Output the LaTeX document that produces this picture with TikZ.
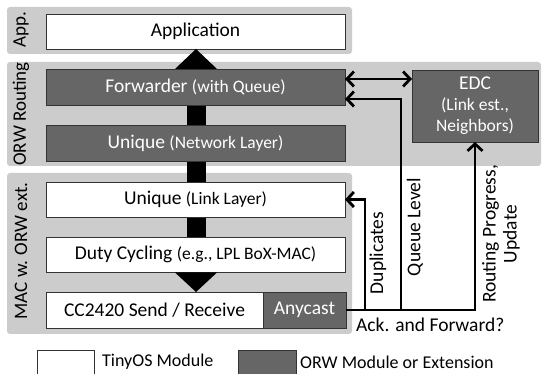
\documentclass[tikz,border=0pt]{standalone}
\usepackage{fontspec}
\setmainfont{Carlito}
\usetikzlibrary{arrows.meta}
\definecolor{bandgray}{HTML}{CCCCCC}
\definecolor{darkbox}{HTML}{666666}
\definecolor{edgegray}{HTML}{333333}
\tikzset{
  band/.style={fill=bandgray, draw=none, rounded corners=3pt},
  tbox/.style={draw=edgegray, line width=0.9pt, fill=white, inner sep=0pt, outer sep=0pt, font=\fontsize{19.5}{22}\selectfont, text=black},
  obox/.style={draw=edgegray, line width=0.9pt, fill=darkbox, inner sep=0pt, outer sep=0pt, font=\fontsize{19.5}{22}\selectfont, text=white},
  bandlabel/.style={rotate=90, font=\fontsize{19}{22}\selectfont, inner sep=0pt},
  conlabel/.style={font=\fontsize{19.5}{22}\selectfont, inner sep=0pt},
  conn/.style={line width=2.8pt, draw=black},
  tip/.style={-{Straight Barb[length=7pt,width=15pt]}},
  dtip/.style={{Straight Barb[length=7pt,width=15pt]}-{Straight Barb[length=7pt,width=15pt]}},
}
\newcommand{\smalltxt}[1]{{\fontsize{17.5}{20}\selectfont #1}}
\begin{document}
\begin{tikzpicture}[x=1pt,y=-1pt]
\useasboundingbox (0,0) rectangle (544,374);
% bands
\path[band] (7,7) rectangle (352,54);
\path[band] (7,62) rectangle (541,166);
\path[band] (7,173) rectangle (352,334);
\node[bandlabel] (lapp) at (21,30) {App.};
\node[bandlabel] (lorw) at (21,114) {ORW Routing};
\node[bandlabel] (lmac) at (21,251) {MAC w. ORW ext.};
% big bar behind boxes
\fill[black] (187,69) rectangle (206,273);
% boxes
\node[tbox, minimum width=299pt, minimum height=35pt] (app) at (195.5,31.5) {Application};
\node[obox, minimum width=299pt, minimum height=36pt] (fwd) at (195.5,87) {Forwarder \smalltxt{(with Queue)}};
\node[obox, minimum width=299pt, minimum height=36pt] (un) at (195.5,143) {Unique \smalltxt{(Network Layer)}};
\node[tbox, minimum width=299pt, minimum height=35pt] (ul) at (195.5,199.5) {Unique \smalltxt{(Link Layer)}};
\node[tbox, minimum width=299pt, minimum height=35pt] (dc) at (195.5,254.5) {Duty Cycling \smalltxt{(e.g., LPL BoX-MAC)}};
\node[tbox, minimum width=217pt, minimum height=36pt] (cc) at (154.5,310) {CC2420 Send / Receive};
\node[obox, minimum width=83pt, minimum height=36pt] (any) at (304.5,310) {Anycast};
\node[obox, minimum width=126pt, minimum height=72pt, align=center] (edc) at (475,106) {EDC\\[-1pt]\smalltxt{(Link est.,}\\[-1pt]\smalltxt{Neighbors)}};
% triangles
\fill[black] (175,69) -- (217,69) -- (196,49) -- cycle;
\fill[black] (175,272.5) -- (217,272.5) -- (196,292) -- cycle;
% connectors
\coordinate (j1) at ([xshift=19pt]any.east);
\coordinate (j2) at ([xshift=55pt]any.east);
\draw[conn, dtip] ([yshift=8pt]fwd.east) -- ([yshift=8pt]fwd.east -| edc.west);
\draw[conn, tip] (any.east) -| (edc.south);
\draw[conn, tip] (j1) |- (ul.east);
\draw[conn, tip] (j2) |- ([yshift=-12pt]fwd.east);
% connector labels
\node[conlabel, rotate=90] (tdup) at (378,253) {Duplicates};
\node[conlabel, rotate=90] (tql) at (415,227) {Queue Level};
\node[conlabel, rotate=90, align=center] (trp) at (501,234) {Routing Progress,\\[-1pt]Update};
\node[conlabel, anchor=west] (tack) at (356,325) {Ack. and Forward?};
% legend
\node[draw=edgegray, line width=0.9pt, fill=white, minimum width=57pt, minimum height=24pt, inner sep=0pt] (legw) at (65.5,362) {};
\node[font=\fontsize{18}{20}\selectfont, anchor=west, inner sep=0pt] (legwt) at (102,362) {TinyOS Module};
\node[draw=edgegray, line width=0.9pt, fill=darkbox, minimum width=58pt, minimum height=24pt, inner sep=0pt] (legg) at (267,362) {};
\node[font=\fontsize{18}{20}\selectfont, anchor=west, inner sep=0pt] (leggt) at (300,362) {ORW Module or Extension};
\end{tikzpicture}
\end{document}
